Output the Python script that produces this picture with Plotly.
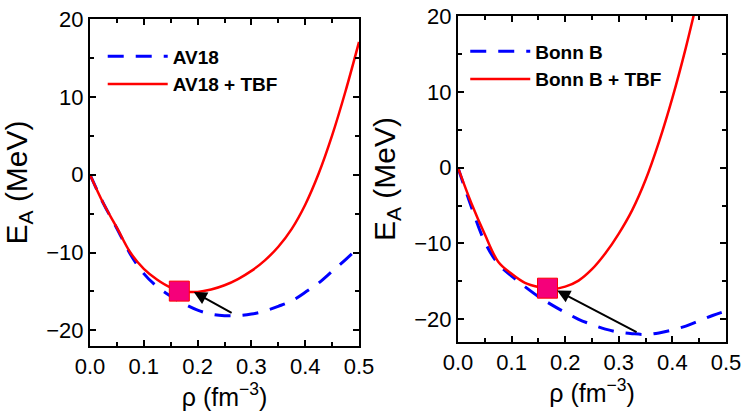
import plotly.graph_objects as go

# ---------------- data ----------------
rho = [0.0, 0.025, 0.05, 0.075, 0.1, 0.125, 0.15, 0.175, 0.2, 0.225, 0.25,
       0.275, 0.3, 0.325, 0.35, 0.375, 0.4, 0.425, 0.45, 0.475, 0.5]

av18 = [0.0, -3.7, -6.9, -10.2, -12.7, -14.4, -15.6, -16.6, -17.4, -17.9, -18.1,
        -18.1, -17.9, -17.5, -16.9, -16.2, -15.1, -13.9, -12.4, -10.9, -9.3]
av18_tbf = [0.0, -3.7, -6.8, -10.0, -12.1, -13.5, -14.5, -15.0, -15.05, -14.75, -14.2,
            -13.4, -12.35, -11.0, -9.25, -6.95, -3.85, 0.15, 5.05, 10.75, 17.05]

bonnb = [0.0, -5.2, -9.8, -12.7, -14.3, -15.7, -17.0, -18.1, -19.1, -20.0, -20.7,
         -21.3, -21.7, -21.9, -22.0, -21.8, -21.4, -20.9, -20.2, -19.5, -18.9]
rho_bonnb_tbf = rho[:19]
bonnb_tbf = [0.0, -4.7, -8.8, -12.4, -14.0, -15.2, -15.75, -16.0, -15.7, -14.9, -13.4,
             -11.3, -8.7, -5.6, -1.6, 3.4, 9.2, 15.8, 23.2]

sat_left_rho, sat_left_E = [0.166], [-14.95]
sat_right_rho, sat_right_E = [0.167], [-15.9]

arrow_left = dict(head=(0.193, -15.06), tail=(0.266, -17.85))
arrow_right = dict(head=(0.185, -16.2), tail=(0.336, -21.8))

x_ticks = [0.0, 0.1, 0.2, 0.3, 0.4, 0.5]
y_ticks = [-20, -10, 0, 10, 20]

# ---------------- styles ----------------
FONT = "Liberation Sans, Arial, sans-serif"
BLUE = "#0000FF"
RED = "#FF0000"
PINK = "#F5007A"
DASH = "16px,12px"

fig = go.Figure()

fig.add_trace(go.Scatter(x=rho, y=av18, mode="lines", name="AV18",
                         line=dict(color=BLUE, width=3, dash=DASH, shape="spline"),
                         xaxis="x", yaxis="y", legend="legend"))
fig.add_trace(go.Scatter(x=rho, y=av18_tbf, mode="lines", name="AV18 + TBF",
                         line=dict(color=RED, width=2.5, shape="spline"),
                         xaxis="x", yaxis="y", legend="legend"))
fig.add_trace(go.Scatter(x=sat_left_rho, y=sat_left_E, mode="markers", showlegend=False,
                         marker=dict(symbol="square", size=20, color=PINK,
                                     line=dict(color=RED, width=1)),
                         xaxis="x", yaxis="y"))

fig.add_trace(go.Scatter(x=rho, y=bonnb, mode="lines", name="Bonn B",
                         line=dict(color=BLUE, width=3, dash=DASH, shape="spline"),
                         xaxis="x2", yaxis="y2", legend="legend2"))
fig.add_trace(go.Scatter(x=rho_bonnb_tbf, y=bonnb_tbf, mode="lines", name="Bonn B + TBF",
                         line=dict(color=RED, width=2.5, shape="spline"),
                         xaxis="x2", yaxis="y2", legend="legend2"))
fig.add_trace(go.Scatter(x=sat_right_rho, y=sat_right_E, mode="markers", showlegend=False,
                         marker=dict(symbol="square", size=20, color=PINK,
                                     line=dict(color=RED, width=1)),
                         xaxis="x2", yaxis="y2"))

for arr, xr, yr in [(arrow_left, "x", "y"), (arrow_right, "x2", "y2")]:
    fig.add_annotation(x=arr["head"][0], y=arr["head"][1],
                       ax=arr["tail"][0], ay=arr["tail"][1],
                       xref=xr, yref=yr, axref=xr, ayref=yr,
                       text="", showarrow=True, arrowhead=2, arrowsize=1.3,
                       arrowwidth=2, arrowcolor="black")

tickfont = dict(family=FONT, size=22, color="black")


def xaxis(domain, anchor):
    return dict(domain=domain, anchor=anchor, range=[0, 0.5],
                tickvals=x_ticks, ticktext=[f"{v:.1f}" for v in x_ticks],
                ticks="inside", ticklen=6, tickwidth=2, tickcolor="black",
                minor=dict(dtick=0.05, tick0=0, ticks="inside", ticklen=4,
                           tickwidth=2, tickcolor="black"),
                showline=True, linewidth=2, linecolor="black", mirror="ticks",
                showgrid=False, zeroline=False, tickfont=tickfont, automargin=False,
                title=dict(text="ρ (fm<sup>−3</sup>)", standoff=8,
                           font=dict(family=FONT, size=25, color="black")))


def yaxis(domain, anchor, rng):
    return dict(domain=domain, anchor=anchor, range=rng,
                tickvals=y_ticks, ticks="inside", ticklen=6, tickwidth=2,
                tickcolor="black",
                minor=dict(dtick=5, tick0=0, ticks="inside", ticklen=4,
                           tickwidth=2, tickcolor="black"),
                showline=True, linewidth=2, linecolor="black", mirror="ticks",
                showgrid=False, zeroline=False, tickfont=tickfont, automargin=False,
                title=dict(text="E<sub>A</sub> (MeV)", standoff=10,
                           font=dict(family=FONT, size=30, color="black")))


legfont = dict(family=FONT, size=19, color="black", weight="bold")

fig.update_layout(
    width=744, height=415,
    margin=dict(l=90, r=18, t=16, b=69, autoexpand=False),
    paper_bgcolor="white", plot_bgcolor="white",
    xaxis=xaxis([0, 0.423], "y"),
    yaxis=yaxis([0, 0.991], "x", [-22, 20]),
    xaxis2=xaxis([0.5786, 1.0], "y2"),
    yaxis2=yaxis([0.0121, 1.0], "x2", [-23, 20]),
    legend=dict(x=0.02, y=0.935, xanchor="left", yanchor="top", font=legfont,
                bgcolor="rgba(0,0,0,0)", itemwidth=60, tracegroupgap=0),
    legend2=dict(x=0.59, y=0.95, xanchor="left", yanchor="top", font=legfont,
                 bgcolor="rgba(0,0,0,0)", itemwidth=60, tracegroupgap=0),
)

fig.write_html("out.html")
